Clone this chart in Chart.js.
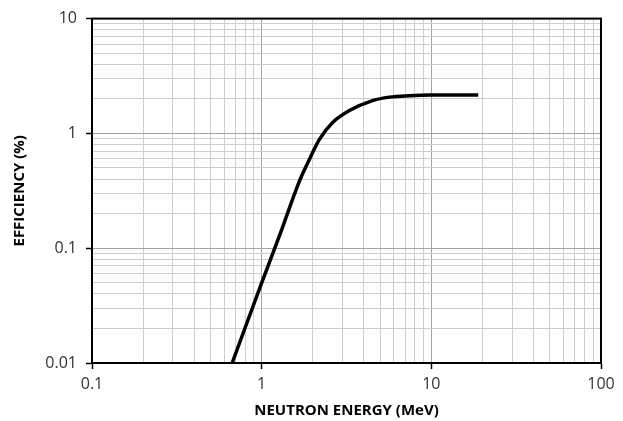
<!DOCTYPE html>
<html>
<head>
<meta charset="utf-8">
<script src="https://cdn.jsdelivr.net/npm/chart.js@4/dist/chart.umd.min.js"></script>
<style>
  body { margin: 0; background: #fff; }
</style>
</head>
<body>
<canvas id="effChart" width="623" height="421"></canvas>
<script>
// neutron energy (MeV) and detection efficiency (%)
const energy = [0.67, 1.0, 1.28, 1.67, 1.92, 2.19, 2.62, 3.29, 4.5, 5.66, 7.42, 10, 18.9];
const efficiency = [0.01, 0.0498, 0.131, 0.384, 0.601, 0.887, 1.245, 1.58, 1.93, 2.07, 2.13, 2.16, 2.165];

const xDecades = [0.1, 1, 10, 100];
const xTickLabels = ["0.1", "1", "10", "100"];
const yDecades = [0.01, 0.1, 1, 10];
const yTickLabels = ["0.01", "0.1", "1", "10"];

// 1..9 steps inside every decade, for the log grid
const gridTicks = (decades) => {
  const ticks = [];
  decades.forEach((d, i) => {
    if (i === decades.length - 1) {
      ticks.push({ value: d, major: true });
      return;
    }
    for (let k = 1; k <= 9; k++) ticks.push({ value: d * k, major: k === 1 });
  });
  return ticks;
};

const labelFor = (decades, labels) => (value) => {
  const i = decades.findIndex((d) => Math.abs(d - value) / d < 1e-6);
  return i >= 0 ? labels[i] : "";
};

const gridColor = (ctx) => (ctx.tick && ctx.tick.major ? "#a3a3a3" : "#cdcdcd");
const tickColor = (ctx) => (ctx.tick && ctx.tick.major ? "#000" : "rgba(0,0,0,0)");

const frame = {
  id: "frame",
  afterDraw(chart) {
    const { ctx, chartArea: a } = chart;
    ctx.save();
    ctx.strokeStyle = "#000";
    ctx.lineWidth = 2;
    ctx.strokeRect(a.left, a.top, a.right - a.left, a.bottom - a.top);
    ctx.restore();
  },
};

const data = {
  datasets: [
    {
      data: energy.map((e, i) => ({ x: e, y: efficiency[i] })),
      borderColor: "#000",
      borderWidth: 3.5,
      pointRadius: 0,
      cubicInterpolationMode: "monotone",
      fill: false,
    },
  ],
};

new Chart(document.getElementById("effChart"), {
  type: "line",
  data,
  plugins: [frame],
  options: {
    responsive: false,
    animation: false,
    layout: { padding: { top: 17, right: 22, left: 0, bottom: 0 } },
    plugins: { legend: { display: false }, tooltip: { enabled: false } },
    scales: {
      x: {
        type: "logarithmic",
        min: 0.1,
        max: 100,
        afterBuildTicks: (axis) => { axis.ticks = gridTicks(xDecades); },
        afterFit: (axis) => { axis.height = 58; },
        grid: { color: gridColor, tickColor: tickColor, tickLength: 6, tickWidth: 1.5, lineWidth: 1 },
        border: { display: true, color: "#000", width: 2 },
        ticks: {
          autoSkip: false,
          maxRotation: 0,
          minRotation: 0,
          padding: 6,
          color: "#333",
          font: { family: "Open Sans", size: 16 },
          callback: labelFor(xDecades, xTickLabels),
        },
        title: {
          display: true,
          text: "NEUTRON ENERGY (MeV)",
          color: "#000",
          font: { family: "Open Sans", size: 15, weight: "bold" },
          padding: { top: 0, bottom: 1 },
        },
      },
      y: {
        type: "logarithmic",
        min: 0.01,
        max: 10,
        afterBuildTicks: (axis) => { axis.ticks = gridTicks(yDecades); },
        afterFit: (axis) => { axis.width = 92; },
        grid: { color: gridColor, tickColor: tickColor, tickLength: 6, tickWidth: 1.5, lineWidth: 1 },
        border: { display: true, color: "#000", width: 2 },
        ticks: {
          autoSkip: false,
          padding: 9,
          color: "#333",
          font: { family: "Open Sans", size: 16 },
          callback: labelFor(yDecades, yTickLabels),
        },
        title: {
          display: true,
          text: "EFFICIENCY (%)",
          color: "#000",
          font: { family: "Open Sans", size: 15, weight: "bold" },
          padding: { top: 11, bottom: 0 },
        },
      },
    },
  },
});
</script>
</body>
</html>
